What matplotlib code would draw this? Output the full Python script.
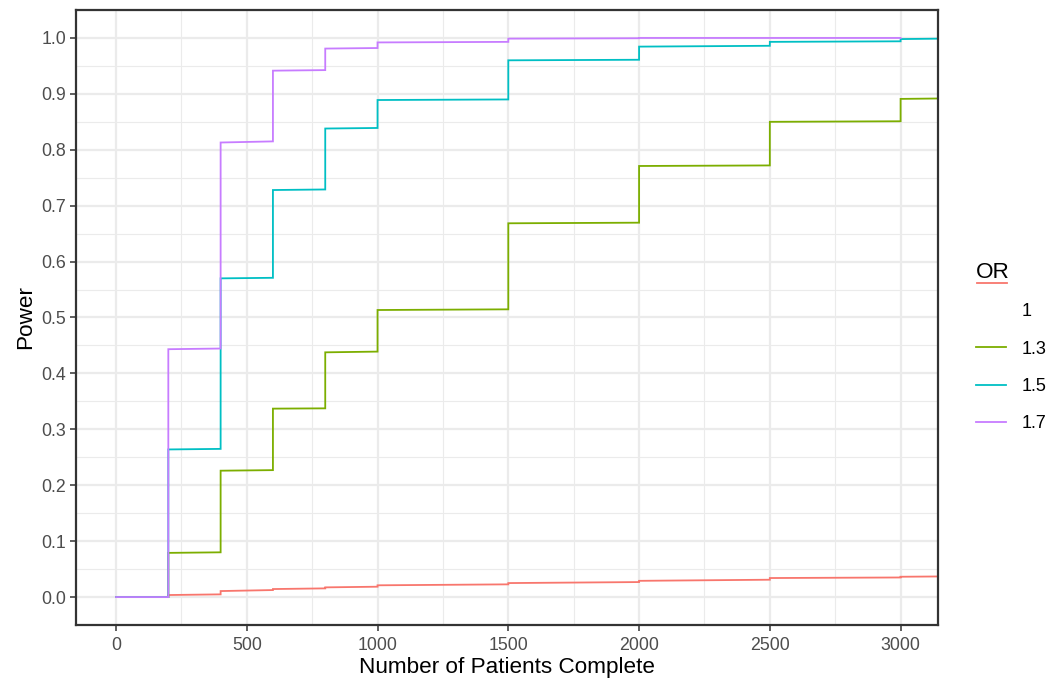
import matplotlib
matplotlib.use('Agg')
import matplotlib.pyplot as plt
from matplotlib.lines import Line2D
from matplotlib.ticker import MultipleLocator

plt.rcParams['font.family'] = ['Liberation Sans', 'DejaVu Sans']

# ============ DATA ============
# interim looks (patients complete); last edge runs past the panel
LOOKS = [0, 200, 400, 600, 800, 1000, 1500, 2000, 2500, 3000, 3200]

OR_LABELS = ['1', '1.3', '1.5', '1.7']
COLORS    = ['#F8766D', '#7CAE00', '#00BFC4', '#C77CFF']

# power at the start / end of each segment between looks
pow_start_1  = [0, 0.0036, 0.0107, 0.0143, 0.0173, 0.0210, 0.0250, 0.0290, 0.0340, 0.0363]
pow_end_1    = [0, 0.0048, 0.0125, 0.0155, 0.0185, 0.0227, 0.0268, 0.0310, 0.0350, 0.0370]
pow_start_13 = [0, 0.079, 0.226, 0.337, 0.4377, 0.5134, 0.6685, 0.771, 0.850, 0.891]
pow_end_13   = [0, 0.080, 0.227, 0.3375, 0.439, 0.5146, 0.6696, 0.772, 0.851, 0.892]
pow_start_15 = [0, 0.264, 0.570, 0.728, 0.838, 0.889, 0.960, 0.9845, 0.993, 0.998]
pow_end_15   = [0, 0.265, 0.571, 0.729, 0.839, 0.890, 0.961, 0.986, 0.994, 0.999]
pow_start_17 = [0, 0.4433, 0.813, 0.9415, 0.981, 0.992, 0.9988, 1.0, 1.0]
pow_end_17   = [0, 0.4445, 0.815, 0.9425, 0.982, 0.993, 0.9995, 1.0, 1.0]

SERIES = [(pow_start_1, pow_end_1), (pow_start_13, pow_end_13),
          (pow_start_15, pow_end_15), (pow_start_17, pow_end_17)]


def seg_path(starts, ends):
    xs, ys = [], []
    for i, (a, b) in enumerate(zip(starts, ends)):
        xs += [LOOKS[i], LOOKS[i + 1]]
        ys += [a, b]
    return xs, ys


# ============ PLOT ============
fig = plt.figure(figsize=(10.53, 6.84), dpi=100)
ax = fig.add_axes([76 / 1053, 59 / 684, 862 / 1053, 615 / 684])

for (st, en), col in zip(SERIES, COLORS):
    xs, ys = seg_path(st, en)
    ax.plot(xs, ys, color=col, lw=1.3, solid_joinstyle='miter')

ax.set_xlim(-153, 3143)
ax.set_ylim(-0.05, 1.05)
ax.xaxis.set_major_locator(MultipleLocator(500))
ax.xaxis.set_minor_locator(MultipleLocator(250))
ax.yaxis.set_major_locator(MultipleLocator(0.1))
ax.yaxis.set_minor_locator(MultipleLocator(0.05))
ax.yaxis.set_major_formatter(plt.FuncFormatter(lambda v, p: f'{v:.1f}'))

ax.grid(which='major', color='#EBEBEB', lw=1.6)
ax.grid(which='minor', color='#EBEBEB', lw=0.8)
ax.set_axisbelow(True)
for s in ax.spines.values():
    s.set_color('#333333')
    s.set_linewidth(1.6)

ax.tick_params(which='major', length=4, width=1.1, color='#333333',
               labelcolor='#4D4D4D', labelsize=12.8)
ax.tick_params(axis='x', which='major', pad=5)
ax.tick_params(axis='y', which='major', pad=3)
ax.tick_params(which='minor', length=0)

ax.set_xlabel('Number of Patients Complete', fontsize=16.2, labelpad=2)
ax.set_ylabel('Power', fontsize=16.2, labelpad=4)

# legend: the '1' key is drawn as an underline below the title in the original
handles = [Line2D([], [], color='none')] + \
          [Line2D([], [], color=c, lw=1.3) for c in COLORS[1:]]
leg = fig.legend(handles, OR_LABELS, title='OR', loc='upper left',
                 bbox_to_anchor=(960 / 1053, 1 - 246 / 684), frameon=False,
                 fontsize=13, title_fontsize=16.2, handlelength=1.65,
                 handletextpad=0.85, labelspacing=1.12, alignment='left')
fig.add_artist(Line2D([977 / 1053, 1007 / 1053], [1 - 283 / 684] * 2,
                      transform=fig.transFigure, color=COLORS[0], lw=1.3))

fig.savefig('out.png', dpi=100)
